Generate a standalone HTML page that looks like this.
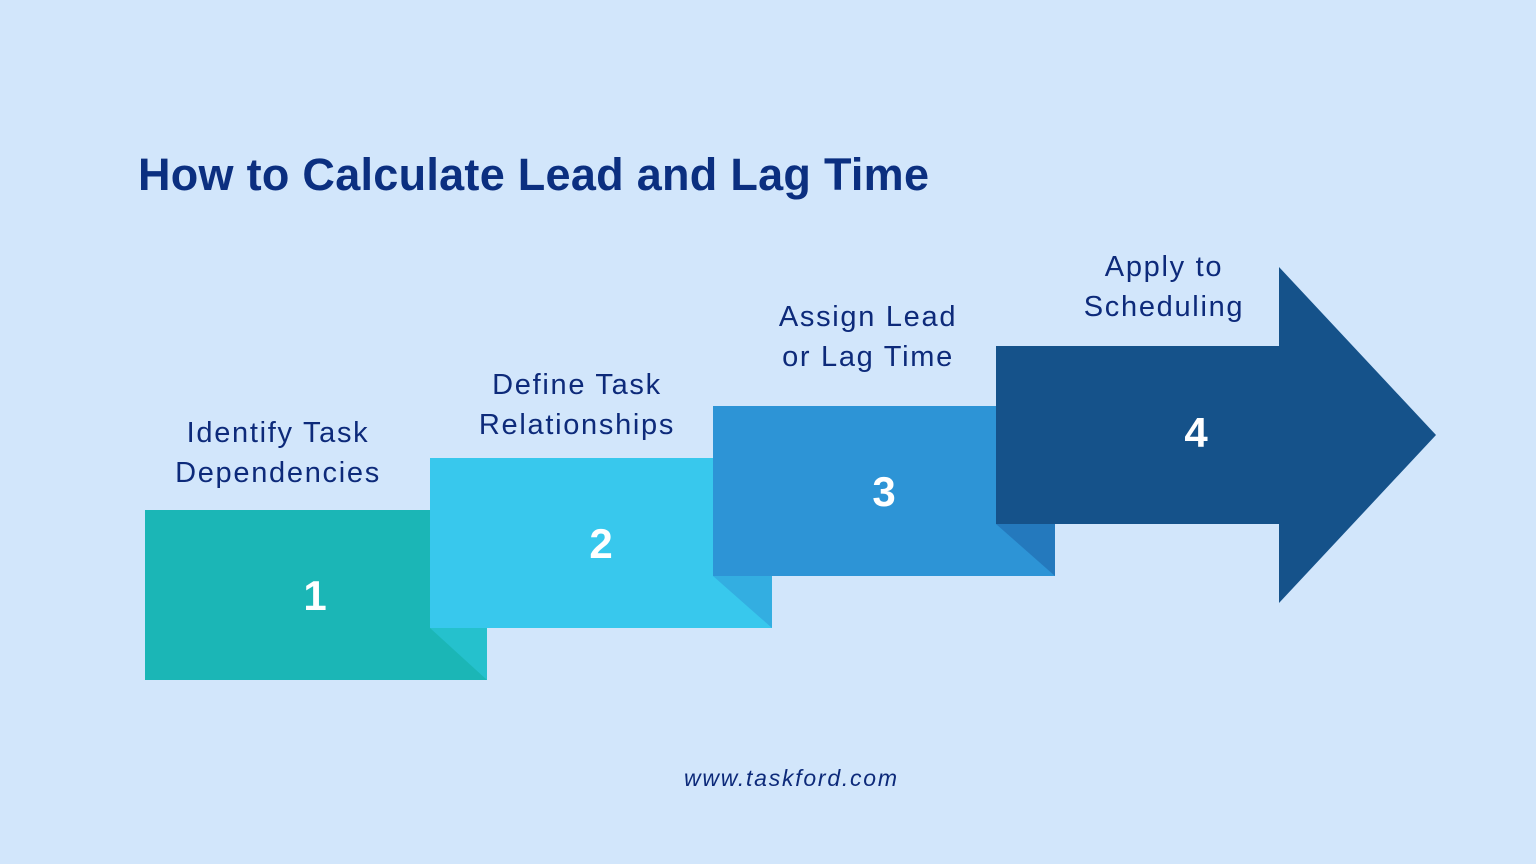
<!DOCTYPE html>
<html><head><meta charset="utf-8"><style>
html,body{margin:0;padding:0;background:#d2e6fb;width:1536px;height:864px;overflow:hidden}
svg{display:block}
text{font-family:"Liberation Sans",sans-serif}
</style></head><body>
<svg width="1536" height="864" viewBox="0 0 1536 864">
<rect width="1536" height="864" fill="#d2e6fb"/>
<text x="138" y="190" font-size="45" font-weight="bold" fill="#0b2f80" textLength="791" lengthAdjust="spacing">How to Calculate Lead and Lag Time</text>

<g>
<rect x="145" y="510" width="342" height="170" fill="#1bb6b6"/>
<polygon points="430,628 487,680 487,628" fill="#25c1cd"/>
<text x="315" y="610" font-size="42" font-weight="bold" fill="#fff" text-anchor="middle">1</text>
<text x="278" y="442" font-size="29" fill="#0d2a7a" text-anchor="middle" letter-spacing="1.7"><tspan x="278">Identify Task</tspan><tspan x="278" dy="40">Dependencies</tspan></text>
</g>
<g>
<rect x="430" y="458" width="342" height="170" fill="#38c8ed"/>
<polygon points="713,576 772,628 772,576" fill="#33aee1"/>
<text x="601" y="558" font-size="42" font-weight="bold" fill="#fff" text-anchor="middle">2</text>
<text x="577" y="394" font-size="29" fill="#0d2a7a" text-anchor="middle" letter-spacing="1.7"><tspan x="577">Define Task</tspan><tspan x="577" dy="40">Relationships</tspan></text>
</g>
<g>
<rect x="713" y="406" width="342" height="170" fill="#2d94d6"/>
<polygon points="996,524 1055,576 1055,524" fill="#2479bd"/>
<text x="884" y="506" font-size="42" font-weight="bold" fill="#fff" text-anchor="middle">3</text>
<text x="868" y="326" font-size="29" fill="#0d2a7a" text-anchor="middle" letter-spacing="1.7"><tspan x="868">Assign Lead</tspan><tspan x="868" dy="40">or Lag Time</tspan></text>
</g>
<g>
<polygon points="996,346 1279,346 1279,267 1436,435 1279,603 1279,524 996,524" fill="#15528a"/>
<text x="1196" y="447" font-size="42" font-weight="bold" fill="#fff" text-anchor="middle">4</text>
<text x="1164" y="276" font-size="29" fill="#0d2a7a" text-anchor="middle" letter-spacing="1.7"><tspan x="1164">Apply to</tspan><tspan x="1164" dy="40">Scheduling</tspan></text>
</g>
<text x="684" y="786" font-size="23" font-style="italic" fill="#0d2a7a" textLength="213" lengthAdjust="spacing">www.taskford.com</text>
</svg>
</body></html>
